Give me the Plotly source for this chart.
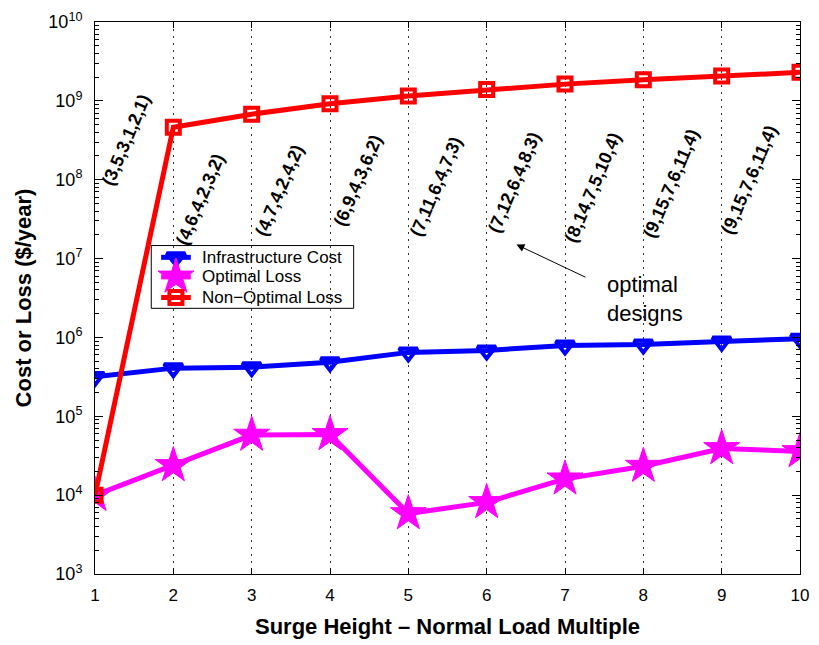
import plotly.graph_objects as go

# Surge height expressed as a multiple of the normal load
surge_multiple = [1, 2, 3, 4, 5, 6, 7, 8, 9, 10]

# Annual cost / loss in $/year
infrastructure_cost = [3.16e5, 4.08e5, 4.2e5, 4.85e5, 6.46e5, 6.84e5, 7.89e5, 8.12e5, 8.85e5, 9.64e5]
optimal_loss = [1.0e4, 2.38e4, 5.78e4, 5.89e4, 5.85e3, 8.09e3, 1.61e4, 2.33e4, 3.91e4, 3.58e4]
non_optimal_loss = [1.0e4, 4.63e8, 6.78e8, 9.21e8, 1.15e9, 1.39e9, 1.63e9, 1.85e9, 2.07e9, 2.30e9]

series_names = ["Infrastructure Cost", "Optimal Loss", "Non\u2212Optimal Loss"]

# Optimal design tuples written next to surge multiples 1..9
design_labels = [
    "(3,5,3,1,2,1)", "(4,6,4,2,3,2)", "(4,7,4,2,4,2)", "(6,9,4,3,6,2)",
    "(7,11,6,4,7,3)", "(7,12,6,4,8,3)", "(8,14,7,5,10,4)", "(9,15,7,6,11,4)",
    "(9,15,7,6,11,4)",
]

# y-axis decade tick labels
decades = [3, 4, 5, 6, 7, 8, 9, 10]
decade_text = ["10<sup>%d</sup>" % d for d in decades]

FONT = "Liberation Sans, Arial, Helvetica, sans-serif"

styles = [
    dict(color="#0000ff", marker=dict(symbol="triangle-down-open", size=16, color="#0000ff",
                                      line=dict(width=4, color="#0000ff"))),
    dict(color="#ff00ff", marker=dict(symbol="star", size=27, color="#ff00ff",
                                      line=dict(width=1, color="#ff00ff"))),
    dict(color="#ff0000", marker=dict(symbol="square-open", size=13, color="#ff0000",
                                      line=dict(width=4, color="#ff0000"))),
]

fig = go.Figure()

for name, values, st in zip(series_names,
                            [infrastructure_cost, optimal_loss, non_optimal_loss],
                            styles):
    fig.add_trace(go.Scatter(
        x=surge_multiple, y=values, name=name, mode="lines+markers",
        line=dict(color=st["color"], width=5), marker=st["marker"],
        showlegend=False,
    ))

# Legend drawn on an overlay axis spanning the plot area in [0, 1] units
leg_x0, leg_x1, leg_y0, leg_y1 = 0.0798, 0.3669, 0.4813, 0.5950
leg_rows = [0.5737, 0.5382, 0.5009]
sym_x0, sym_x1, sym_xm, txt_x = 0.0938, 0.1359, 0.1148, 0.1485

for name, row_y, st in zip(series_names, leg_rows, styles):
    fig.add_trace(go.Scatter(
        x=[sym_x0, sym_x1], y=[row_y, row_y], xaxis="x2", yaxis="y2",
        mode="lines", line=dict(color=st["color"], width=5),
        showlegend=False, hoverinfo="skip", cliponaxis=False,
    ))
    fig.add_trace(go.Scatter(
        x=[sym_xm], y=[row_y], xaxis="x2", yaxis="y2",
        mode="markers", marker=st["marker"],
        showlegend=False, hoverinfo="skip", cliponaxis=False,
    ))

annotations = []
for name, row_y in zip(series_names, leg_rows):
    annotations.append(dict(
        x=txt_x, y=row_y, xref="x2", yref="y2", text=name, showarrow=False,
        xanchor="left", yanchor="middle",
        font=dict(family=FONT, size=17, color="black"),
    ))

# Rotated design-tuple labels (annotation y is log10 on a log axis)
label_dx = 0.35
label_logy = [8.50, 7.75, 7.86, 7.99, 7.91, 7.96, 7.90, 7.95, 8.00]
for i, txt in enumerate(design_labels):
    annotations.append(dict(
        x=surge_multiple[i] + label_dx + (0.05 if i == 0 else 0.0),
        y=label_logy[i], xref="x", yref="y",
        text="<b>%s</b>" % txt, showarrow=False, textangle=-67,
        font=dict(family=FONT, size=18, color="black"),
        xanchor="center", yanchor="middle",
    ))

# "optimal designs" callout with its arrow
annotations.append(dict(
    x=6.38, y=7.178, xref="x", yref="y",
    ax=7.28, ay=6.755, axref="x", ayref="y",
    text="", showarrow=True, arrowhead=2, arrowsize=1.6, arrowwidth=1,
    arrowcolor="black", standoff=0,
))
annotations.append(dict(
    x=8.02, y=6.49, xref="x", yref="y",
    text="optimal<br>designs", showarrow=False, align="left",
    xanchor="center", yanchor="middle",
    font=dict(family=FONT, size=22, color="black"),
))

fig.update_layout(
    width=819, height=645,
    margin=dict(l=95, r=10, t=16, b=66),
    paper_bgcolor="white", plot_bgcolor="white",
    font=dict(family=FONT, size=17, color="black"),
    showlegend=False,
    annotations=annotations,
    xaxis=dict(
        range=[1, 10], tickmode="array", tickvals=surge_multiple,
        ticks="inside", ticklen=6, tickcolor="black",
        showline=True, linecolor="black", linewidth=1, mirror="ticks",
        showgrid=True, gridcolor="#333333", gridwidth=1, griddash="2px,5px",
        zeroline=False,
        tickfont=dict(family=FONT, size=17, color="black"),
        ticklabelstandoff=6,
        title=dict(text="<b>Surge Height \u2013 Normal Load Multiple</b>",
                   font=dict(family=FONT, size=22, color="black"), standoff=14),
    ),
    yaxis=dict(
        type="log", range=[3, 10],
        tickmode="array", tickvals=[10 ** d for d in decades], ticktext=decade_text,
        ticks="inside", ticklen=8, tickcolor="black",
        minor=dict(ticks="inside", ticklen=4, tickcolor="black", dtick="D1", showgrid=False),
        showline=True, linecolor="black", linewidth=1, mirror="ticks",
        showgrid=False, zeroline=False,
        tickfont=dict(family=FONT, size=18, color="black"),
        ticklabelstandoff=8,
        title=dict(text="<b>Cost or Loss ($/year)</b>",
                   font=dict(family=FONT, size=22, color="black"), standoff=10),
    ),
    xaxis2=dict(overlaying="x", range=[0, 1], visible=False, fixedrange=True),
    yaxis2=dict(overlaying="y", range=[0, 1], visible=False, fixedrange=True),
    shapes=[
        # blank area around the legend box
        dict(type="rect", xref="paper", yref="paper",
             x0=0.079, x1=0.368, y0=0.410, y1=0.603,
             fillcolor="white", line=dict(width=0), layer="between"),
        dict(type="rect", xref="paper", yref="paper",
             x0=leg_x0, x1=leg_x1, y0=leg_y0, y1=leg_y1,
             fillcolor="rgba(0,0,0,0)", line=dict(width=1, color="black"),
             layer="between"),
    ],
)

fig.write_html("out.html")
